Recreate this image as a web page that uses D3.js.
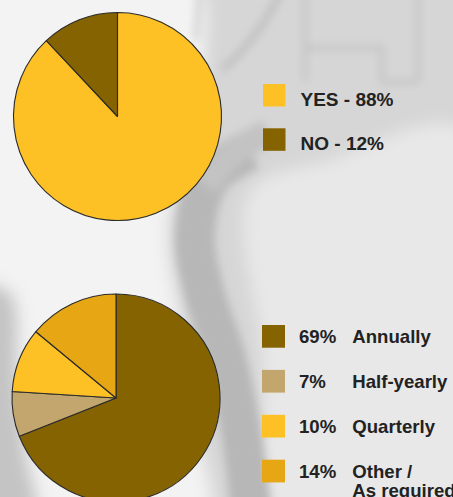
<!DOCTYPE html>
<html>
<head>
<meta charset="utf-8">
<script src="https://cdn.jsdelivr.net/npm/d3@7"></script>
<style>
  html, body { margin: 0; padding: 0; background: #dcdcdc; }
  svg { display: block; }
  .legend text { font-family: "Liberation Sans", Arial, sans-serif; font-weight: bold; fill: #222; }
</style>
</head>
<body>
<div id="chart"></div>
<script>
// Survey answers
const answerLabels = ["YES", "NO"];
const answerValues = [88, 12];
const answerColors = ["#fdc125", "#856300"];

// Review frequency
const freqPercents = ["69%", "7%", "10%", "14%"];
const freqLabels = [["Annually"], ["Half-yearly"], ["Quarterly"], ["Other /", "As required"]];
const freqValues = [69, 7, 10, 14];
const freqColors = ["#856300", "#c3a66d", "#fdc125", "#e7a614"];

const width = 453, height = 497;

const svg = d3.select("#chart").append("svg")
  .attr("width", width).attr("height", height);

// ---- soft grey photographic backdrop ----
const defs = svg.append("defs");
defs.append("filter").attr("id", "soft").attr("x", "-20%").attr("y", "-20%")
  .attr("width", "140%").attr("height", "140%")
  .append("feGaussianBlur").attr("stdDeviation", 4);
defs.append("filter").attr("id", "softer").attr("x", "-20%").attr("y", "-20%")
  .attr("width", "140%").attr("height", "140%")
  .append("feGaussianBlur").attr("stdDeviation", 8);

const bg = svg.append("g").attr("class", "backdrop");
bg.append("rect").attr("width", width).attr("height", height).attr("fill", "#d6d6d6");

const line = d3.line().curve(d3.curveCatmullRom);
const area = d3.line().curve(d3.curveCatmullRomClosed);

const big = bg.append("g").attr("filter", "url(#softer)");
// bright left side
big.append("path").attr("fill", "#f3f3f3")
  .attr("d", area([[-30, -30], [190, -30], [205, 60], [185, 150], [168, 230], [180, 320], [195, 420], [205, 530], [-30, 530]]));
// bright lower right
big.append("path").attr("fill", "#e8e8e8")
  .attr("d", area([[250, 192], [330, 160], [460, 128], [490, 300], [480, 530], [285, 530], [262, 350]]));
// grey lower-left corner
big.append("path").attr("fill", "#c4c4c4")
  .attr("d", area([[-30, 290], [10, 292], [18, 380], [26, 450], [36, 530], [-30, 530]]));

const fine = bg.append("g").attr("filter", "url(#soft)").attr("fill", "none");
// darker diagonal band
fine.append("path").attr("stroke", "#b7b7b7").attr("stroke-width", 40)
  .attr("d", line([[250, 150], [210, 178], [195, 235], [205, 295], [225, 355], [240, 425], [252, 520]]));
fine.append("path").attr("stroke", "#c3c3c3").attr("stroke-width", 26)
  .attr("d", line([[268, 132], [232, 155], [205, 185]]));
// window-like frame lines at the top
fine.append("path").attr("stroke", "#bdbdbd").attr("stroke-width", 6)
  .attr("d", line([[282, -10], [262, 25], [238, 55], [222, 70]]));
fine.append("path").attr("stroke", "#c5c5c5").attr("stroke-width", 5)
  .attr("d", "M305,-10 L305,82 M305,48 L385,48 M382,48 L382,82 L418,82 M418,82 L418,-10");
fine.append("path").attr("stroke", "#cdcdcd").attr("stroke-width", 5)
  .attr("d", "M200,-10 L196,40");

// ---- pie charts ----
const pie = d3.pie().sort(null).value(d => d);
const arc = d3.arc().innerRadius(0).outerRadius(104);

function drawPie(cx, cy, values, colors) {
  const g = svg.append("g").attr("transform", `translate(${cx},${cy})`);
  g.selectAll("path").data(pie(values)).join("path")
    .attr("d", arc)
    .attr("fill", (d, i) => colors[i])
    .attr("stroke", "#2b2b2b")
    .attr("stroke-width", 1.1)
    .attr("stroke-linejoin", "round");
}

drawPie(117.5, 116.5, answerValues, answerColors);
drawPie(116, 398, freqValues, freqColors);

// ---- legends ----
const legendA = svg.append("g").attr("class", "legend");
const rowA = legendA.selectAll("g").data(answerLabels).join("g")
  .attr("transform", (d, i) => `translate(263,${84 + i * 44.3})`);
rowA.append("rect").attr("width", 22.5).attr("height", 22.5)
  .attr("fill", (d, i) => answerColors[i]);
rowA.append("text").attr("x", 37.5).attr("y", 21.8)
  .attr("font-size", 19)
  .text((d, i) => `${d} - ${answerValues[i]}%`);

const legendB = svg.append("g").attr("class", "legend");
const rowB = legendB.selectAll("g").data(freqLabels).join("g")
  .attr("transform", (d, i) => `translate(262,${325 + i * 44.9})`);
rowB.append("rect").attr("width", 23).attr("height", 22.7)
  .attr("fill", (d, i) => freqColors[i]);
rowB.append("text").attr("x", 37).attr("y", 18.4)
  .attr("font-size", 18.6)
  .text((d, i) => freqPercents[i]);
rowB.append("text").attr("x", 90.3).attr("y", 18.4)
  .attr("font-size", 18.6)
  .selectAll("tspan").data(d => d).join("tspan")
  .attr("x", 90.3)
  .attr("dy", (d, j) => j === 0 ? 0 : 19.3)
  .text(d => d);
</script>
</body>
</html>
